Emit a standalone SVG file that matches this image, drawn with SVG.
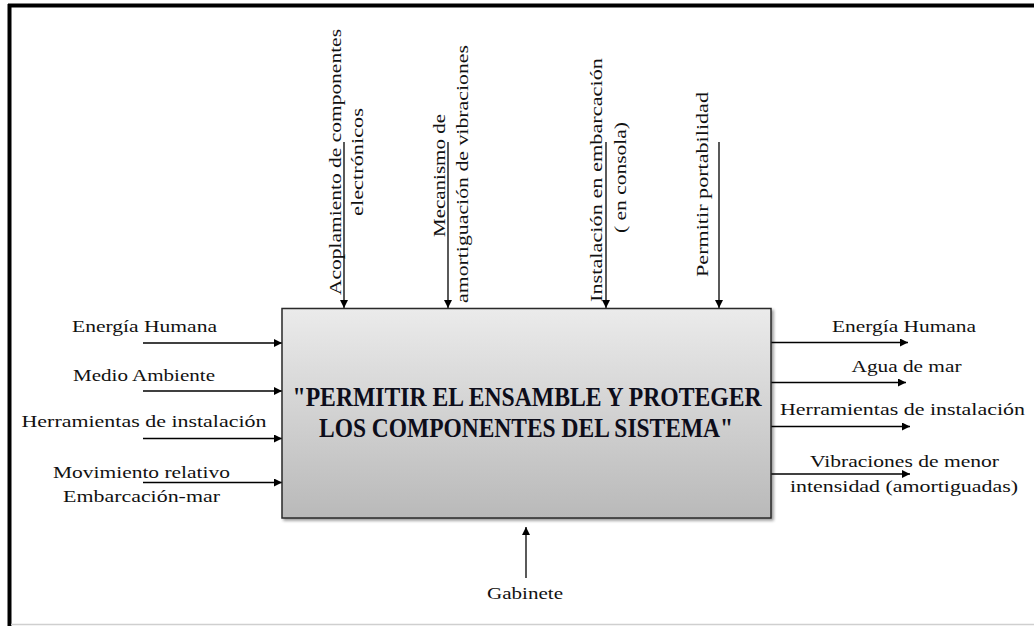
<svg xmlns="http://www.w3.org/2000/svg" width="1034" height="626" viewBox="0 0 1034 626">
  <defs>
    <linearGradient id="boxFill" x1="0" y1="0" x2="0" y2="1">
      <stop offset="0" stop-color="#ebebeb"/>
      <stop offset="1" stop-color="#b9b9b9"/>
    </linearGradient>
    <filter id="shadow" x="-5%" y="-5%" width="115%" height="115%">
      <feGaussianBlur in="SourceAlpha" stdDeviation="1.5"/>
      <feOffset dx="2" dy="2" result="b"/>
      <feComponentTransfer><feFuncA type="linear" slope="0.4"/></feComponentTransfer>
      <feMerge><feMergeNode/><feMergeNode in="SourceGraphic"/></feMerge>
    </filter>
    <marker id="arrow" viewBox="0 0 10 10" refX="10" refY="5" markerWidth="8" markerHeight="8" markerUnits="userSpaceOnUse" orient="auto">
      <path d="M0,0 L10,5 L0,10 z" fill="#000"/>
    </marker>
  </defs>
  <style>
    .lbl { font-family: "Liberation Serif", "DejaVu Serif", serif; font-size: 17px; fill: #111; }
    .ttl { font-family: "Liberation Serif", "DejaVu Serif", serif; font-size: 21.4px; font-weight: bold; fill: #0d0d1a; }
    .flow { stroke: #000; stroke-width: 1.3; fill: none; marker-end: url(#arrow); }
  </style>

  <!-- page frame -->
  <rect width="1034" height="626" fill="#fff"/>
  <line x1="9.5" y1="4" x2="9.5" y2="626" stroke="#000" stroke-width="4"/>
  <line x1="8" y1="5.5" x2="1034" y2="5.5" stroke="#000" stroke-width="4"/>
  <line x1="11" y1="624.5" x2="1034" y2="624.5" stroke="#cfcfcf" stroke-width="1.5"/>

  <!-- connectors -->
  <g id="connectors">
    <!-- controls (top) -->
    <line class="flow" x1="344" y1="142" x2="344" y2="308"/>
    <line class="flow" x1="448" y1="142" x2="448" y2="308"/>
    <line class="flow" x1="606" y1="142" x2="606" y2="308"/>
    <line class="flow" x1="719" y1="142" x2="719" y2="308"/>
    <!-- inputs (left) -->
    <line class="flow" x1="143" y1="343" x2="282" y2="343"/>
    <line class="flow" x1="143" y1="391" x2="282" y2="391"/>
    <line class="flow" x1="143" y1="438.5" x2="282" y2="438.5"/>
    <line class="flow" x1="143" y1="482.5" x2="282" y2="482.5"/>
    <!-- outputs (right) -->
    <line class="flow" x1="769" y1="342.5" x2="908" y2="342.5"/>
    <line class="flow" x1="769" y1="382.5" x2="906" y2="382.5"/>
    <line class="flow" x1="771" y1="426.5" x2="910" y2="426.5"/>
    <line class="flow" x1="771" y1="474" x2="910" y2="474"/>
    <!-- mechanism (bottom) -->
    <line class="flow" x1="526" y1="578" x2="526" y2="527"/>
  </g>

  <!-- central function block -->
  <g id="function">
    <rect x="282" y="308.5" width="489" height="209.5" fill="url(#boxFill)" stroke="#2a2a2a" stroke-width="1.5" filter="url(#shadow)"/>
    <text class="ttl" transform="translate(527,406) scale(1,1.26)" text-anchor="middle" textLength="469" lengthAdjust="spacingAndGlyphs">"PERMITIR EL ENSAMBLE Y PROTEGER</text>
    <text class="ttl" transform="translate(526,437) scale(1,1.26)" text-anchor="middle" textLength="414" lengthAdjust="spacingAndGlyphs">LOS COMPONENTES DEL SISTEMA"</text>
  </g>

  <!-- control labels -->
  <g id="ctrl-acoplamiento">
    <text class="lbl" transform="translate(341,162) rotate(-90)" text-anchor="middle" textLength="266" lengthAdjust="spacingAndGlyphs">Acoplamiento de componentes</text>
    <text class="lbl" transform="translate(363,162) rotate(-90)" text-anchor="middle" textLength="108" lengthAdjust="spacingAndGlyphs">electrónicos</text>
  </g>
  <g id="ctrl-mecanismo">
    <text class="lbl" transform="translate(445,175.5) rotate(-90)" text-anchor="middle" textLength="123" lengthAdjust="spacingAndGlyphs">Mecanismo de</text>
    <text class="lbl" transform="translate(468,174) rotate(-90)" text-anchor="middle" textLength="258" lengthAdjust="spacingAndGlyphs">amortiguación de vibraciones</text>
  </g>
  <g id="ctrl-instalacion">
    <text class="lbl" transform="translate(601.5,180) rotate(-90)" text-anchor="middle" textLength="244" lengthAdjust="spacingAndGlyphs">Instalación en  embarcación</text>
    <text class="lbl" transform="translate(626,177.5) rotate(-90)" text-anchor="middle" textLength="111" lengthAdjust="spacingAndGlyphs">( en consola)</text>
  </g>
  <g id="ctrl-portabilidad">
    <text class="lbl" transform="translate(708,184.5) rotate(-90)" text-anchor="middle" textLength="185" lengthAdjust="spacingAndGlyphs">Permitir portabilidad</text>
  </g>

  <!-- input labels -->
  <g id="in-energia">
    <text class="lbl" x="144.5" y="332" text-anchor="middle" textLength="145" lengthAdjust="spacingAndGlyphs">Energía Humana</text>
  </g>
  <g id="in-medio">
    <text class="lbl" x="144" y="381" text-anchor="middle" textLength="142" lengthAdjust="spacingAndGlyphs">Medio Ambiente</text>
  </g>
  <g id="in-herramientas">
    <text class="lbl" x="144" y="427" text-anchor="middle" textLength="245" lengthAdjust="spacingAndGlyphs">Herramientas de instalación</text>
  </g>
  <g id="in-movimiento">
    <text class="lbl" x="141.5" y="478" text-anchor="middle" textLength="177" lengthAdjust="spacingAndGlyphs">Movimiento relativo</text>
    <text class="lbl" x="141.5" y="502" text-anchor="middle" textLength="157" lengthAdjust="spacingAndGlyphs">Embarcación-mar</text>
  </g>

  <!-- output labels -->
  <g id="out-energia">
    <text class="lbl" x="904" y="332" text-anchor="middle" textLength="144" lengthAdjust="spacingAndGlyphs">Energía Humana</text>
  </g>
  <g id="out-agua">
    <text class="lbl" x="906.5" y="371.5" text-anchor="middle" textLength="110" lengthAdjust="spacingAndGlyphs">Agua de mar</text>
  </g>
  <g id="out-herramientas">
    <text class="lbl" x="902.5" y="415" text-anchor="middle" textLength="245" lengthAdjust="spacingAndGlyphs">Herramientas de instalación</text>
  </g>
  <g id="out-vibraciones">
    <text class="lbl" x="904.5" y="466.5" text-anchor="middle" textLength="189" lengthAdjust="spacingAndGlyphs">Vibraciones de menor</text>
    <text class="lbl" x="904" y="491.5" text-anchor="middle" textLength="228" lengthAdjust="spacingAndGlyphs">intensidad (amortiguadas)</text>
  </g>

  <!-- mechanism label -->
  <g id="mech-gabinete">
    <text class="lbl" x="525" y="599" text-anchor="middle" textLength="76" lengthAdjust="spacingAndGlyphs">Gabinete</text>
  </g>
</svg>
